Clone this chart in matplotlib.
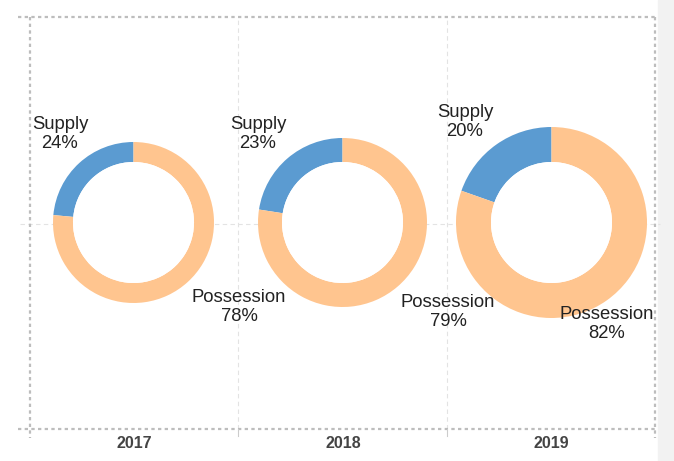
import matplotlib.pyplot as plt
from matplotlib.patches import Rectangle, Circle

years = ["2017", "2018", "2019"]
supply = [24, 23, 20]
possession = [78, 79, 82]

colors = ["#5b9bd1", "#ffc58f"]

# layout in pixel coords (y measured from the bottom)
W, H = 674, 461
centers = [(133.5, 238.5), (342.5, 238.5), (551.5, 238.5)]
radii = [80.5, 84.5, 95.5]
inner_r = 60.5
supply_pos = [(60, 327), (258, 327), (465, 339)]
poss_pos = [(239, 154), (448, 149), (607, 137)]
col_x = [134, 343, 551]

plt.rcParams["font.family"] = ["Liberation Sans", "DejaVu Sans"]

fig = plt.figure(figsize=(W / 100, H / 100), dpi=100)
ax = fig.add_axes([0, 0, 1, 1])

# right gray strip
ax.add_patch(Rectangle((658, 0), 16, H, color="#f2f2f2", zorder=0))

grid = dict(color="#e3e3e3", lw=0.8, ls=(0, (4, 3)), zorder=1)
for x in [238, 447]:
    ax.plot([x, x], [H - 429, H - 17], **grid)
ax.plot([20, 660], [H - 224, H - 224], **grid)

border = dict(color="#bdbdbd", lw=1.6, ls=(0, (1.5, 1.5)), zorder=2)
ax.plot([18, 658], [H - 17, H - 17], **border)
ax.plot([18, 658], [H - 429, H - 429], **border)
ax.plot([30, 30], [H - 17, H - 438], **border)
ax.plot([655, 655], [H - 17, H - 438], **border)
for x in [238, 447]:
    ax.plot([x, x], [H - 429, H - 436], color="#cccccc", lw=0.8)

for i in range(len(years)):
    wedges, _ = ax.pie([supply[i], possession[i]], colors=colors, startangle=90,
                       counterclock=True, center=centers[i], radius=radii[i],
                       wedgeprops=dict(width=radii[i] - inner_r, linewidth=0),
                       frame=True)
    for w in wedges:
        w.set_zorder(3)
    # white hole so the gridline does not show through
    ax.add_patch(Circle(centers[i], inner_r, color="white", lw=0, zorder=3))
    ax.text(*supply_pos[i], f"Supply\n{supply[i]}%", ha="center", va="center",
            fontsize=13.3, color="#222222", linespacing=1.15, zorder=4)
    ax.text(*poss_pos[i], f"Possession\n{possession[i]}%", ha="center", va="center",
            fontsize=13.3, color="#222222", linespacing=1.15, zorder=4)
    ax.text(col_x[i], H - 444, years[i], ha="center", va="center",
            fontsize=11.5, fontweight="bold", color="#444444")

ax.set_xlim(0, W)
ax.set_ylim(0, H)
ax.set_aspect("equal")
ax.axis("off")

fig.savefig("out.png", dpi=100)
